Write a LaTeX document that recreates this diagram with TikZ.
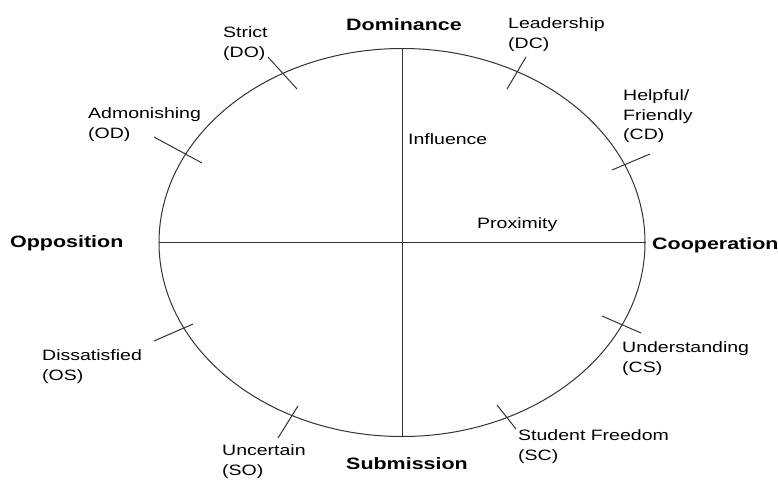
\documentclass[tikz,border=0pt]{standalone}
\usepackage{fontspec}
\setmainfont{Liberation Sans}[FakeStretch=1.3]
\usetikzlibrary{shapes.geometric}
\begin{document}
\begin{tikzpicture}[x=1pt,y=-1pt]
\tikzset{
  lbl/.style={anchor=base west, align=left, inner sep=0pt, font=\fontsize{15}{19.5}\selectfont, text=black},
  axislbl/.style={inner sep=0pt, font=\fontsize{16.5}{20}\selectfont\bfseries, text=black},
  line/.style={draw=black!80, line width=1pt},
  tickmark/.style={draw=black!80, line width=1pt}
}
\useasboundingbox[fill=white] (0,0) rectangle (778,479);
% circumplex
\node[ellipse, line, minimum width=486pt, minimum height=388pt, inner sep=0pt] (E) at (402,242.5) {};
\draw[line] (E.north) -- (E.south);
\draw[line] (E.west) -- (E.east);
% axis labels
\node[axislbl, anchor=base] (dom) at (404,30) {Dominance};
\node[axislbl, anchor=base] (sub) at (407,469) {Submission};
\node[axislbl, anchor=base west] (opp) at (10,247) {Opposition};
\node[axislbl, anchor=base west] (coop) at (652,249) {Cooperation};
% inner labels
\node[lbl] (infl) at (408,144.5) {Influence};
\node[lbl] (prox) at (477,228.5) {Proximity};
% octant labels (anchor = baseline of last line)
\node[lbl] (DO) at (223,57) {Strict\\(DO)};
\node[lbl] (OD) at (88,138) {Admonishing\\(OD)};
\node[lbl] (DC) at (508,48) {Leadership\\(DC)};
\node[lbl] (CD) at (623,139.5) {Helpful/\\Friendly\\(CD)};
\node[lbl] (CS) at (622,372) {Understanding\\(CS)};
\node[lbl] (SC) at (518,460) {Student Freedom\\(SC)};
\node[lbl] (SO) at (222,475) {Uncertain\\(SO)};
\node[lbl] (OS) at (42,380) {Dissatisfied\\(OS)};
% tick marks
\coordinate (t1a) at (268,57);  \coordinate (t1b) at (297,89);
\coordinate (t2a) at (154,137); \coordinate (t2b) at (202,163);
\coordinate (t3a) at (526,57);  \coordinate (t3b) at (507,89);
\coordinate (t4a) at (612,170); \coordinate (t4b) at (650,154);
\coordinate (t5a) at (602,316); \coordinate (t5b) at (641,333);
\coordinate (t6a) at (497,405); \coordinate (t6b) at (516,429);
\coordinate (t7a) at (298,406); \coordinate (t7b) at (278,438);
\coordinate (t8a) at (154,341); \coordinate (t8b) at (193,324);
\foreach \i in {1,...,8} { \draw[tickmark] (t\i a) -- (t\i b); }
\end{tikzpicture}
\end{document}
